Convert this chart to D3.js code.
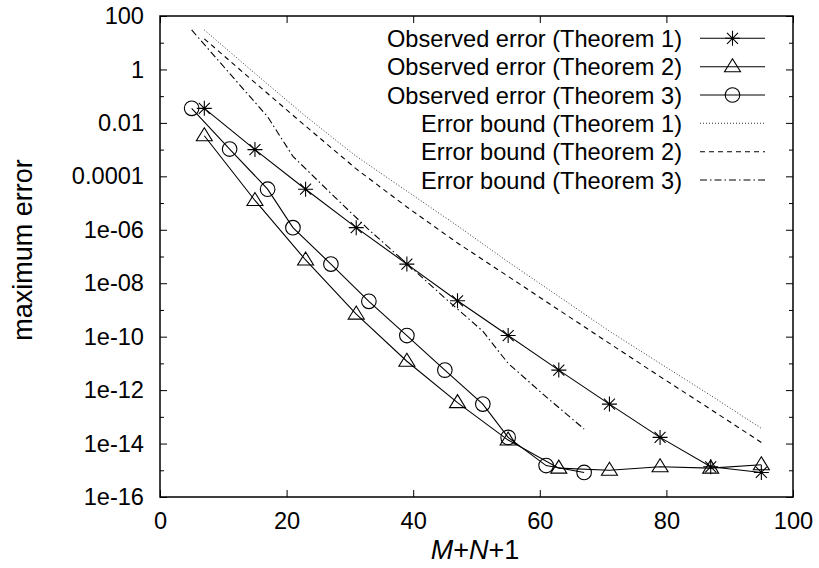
<!DOCTYPE html>
<html><head><meta charset="utf-8">
<script src="https://cdn.jsdelivr.net/npm/d3@7"></script>
<style>
html,body{margin:0;padding:0;background:#fff;}
svg text{font-family:"Liberation Sans",Arial,Helvetica,sans-serif;fill:#000;}
</style></head>
<body><svg id="c" width="819" height="568"></svg>
<script>
// ---- data ----
const xA = [7,15,23,31,39,47,55,63,71,79,87,95];          // Theorem 1 & 2 grid
const xC = [5,11,17,21,27,33,39,45,51,55,61,67];          // Theorem 3 grid
const obs1 = [3.5e-2,1.0e-3,3.3e-5,1.2e-6,5.2e-8,2.2e-9,1.1e-10,5.6e-12,3.0e-13,1.7e-14,1.35e-15,8.3e-16];
const obs2 = [3.3e-3,1.25e-5,7.4e-8,7.0e-10,1.2e-11,3.4e-13,1.35e-14,1.2e-15,1.0e-15,1.35e-15,1.2e-15,1.6e-15];
const obs3 = [3.5e-2,1.05e-3,3.3e-5,1.2e-6,5.2e-8,2.1e-9,1.1e-10,5.6e-12,3.0e-13,1.7e-14,1.5e-15,8.3e-16];
const bound1 = [30,0.71,1.78e-2,5.6e-4,2.8e-5,1.4e-6,6.3e-8,3.2e-9,1.6e-10,1.0e-11,6.3e-13,3.7e-14];
const bound2 = [14,0.32,7.6e-3,1.9e-4,7.1e-6,3.2e-7,1.8e-8,1.0e-9,5.6e-11,3.2e-12,1.9e-13,1.1e-14];
const bound3 = [30,0.71,1.7e-2,5.6e-4,2.3e-5,1.0e-6,5.4e-8,2.8e-9,1.6e-10,1.0e-11,5.6e-13,3.5e-14];
const yTickValues = [1e2,1,1e-2,1e-4,1e-6,1e-8,1e-10,1e-12,1e-14,1e-16];
const yTickLabels = ["100","1","0.01","0.0001","1e-06","1e-08","1e-10","1e-12","1e-14","1e-16"];
const yMinorValues = [1e1,1e-1,1e-3,1e-5,1e-7,1e-9,1e-11,1e-13,1e-15];
const xTickValues = [0,20,40,60,80,100];
const legendLabels = ["Observed error (Theorem 1)","Observed error (Theorem 2)","Observed error (Theorem 3)",
  "Error bound (Theorem 1)","Error bound (Theorem 2)","Error bound (Theorem 3)"];

// ---- layout ----
const L=160,R=793,T=16,B=497;
const svg=d3.select("#c");
const x=d3.scaleLinear().domain([0,100]).range([L,R]);
const y=d3.scaleLog().domain([1e-16,100]).range([B,T]);
const FS="23.6px", FT="27px";

// axes
svg.append("g").attr("transform",`translate(${L},0)`)
  .call(d3.axisLeft(y).tickValues(yTickValues).tickFormat((d,i)=>yTickLabels[i]).tickSize(-7).tickPadding(16));
svg.append("g").attr("transform",`translate(${L},0)`)
  .call(d3.axisLeft(y).tickValues(yMinorValues).tickFormat("").tickSize(-4));
svg.append("g").attr("transform",`translate(${R},0)`)
  .call(d3.axisRight(y).tickValues(yTickValues).tickFormat("").tickSize(-7));
svg.append("g").attr("transform",`translate(${R},0)`)
  .call(d3.axisRight(y).tickValues(yMinorValues).tickFormat("").tickSize(-4));
svg.append("g").attr("transform",`translate(0,${B})`)
  .call(d3.axisBottom(x).tickValues(xTickValues).tickFormat(d3.format("d")).tickSize(-7).tickPadding(15));
svg.append("g").attr("transform",`translate(0,${T})`)
  .call(d3.axisTop(x).tickValues(xTickValues).tickFormat("").tickSize(-7));
svg.selectAll(".domain").remove();
svg.selectAll(".tick line").attr("stroke","#000").attr("stroke-width",1);
svg.selectAll(".tick text").style("font-size",FS).attr("fill","#000");

svg.append("rect").attr("x",L).attr("y",T).attr("width",R-L).attr("height",B-T)
  .attr("fill","none").attr("stroke","#000").attr("stroke-width",1.5);

// titles
svg.append("text").attr("transform","translate(32,250) rotate(-90)").attr("text-anchor","middle")
  .style("font-size",FT).text("maximum error");
const xt=svg.append("text").attr("x",475).attr("y",559).attr("text-anchor","middle").style("font-size",FT);
xt.append("tspan").attr("font-style","italic").text("M");
xt.append("tspan").text("+");
xt.append("tspan").attr("font-style","italic").text("N");
xt.append("tspan").text("+1");

// series
const line=d3.line().x(d=>x(d[0])).y(d=>y(d[1]));
const zip=(a,b)=>a.map((v,i)=>[v,b[i]]);
const plot=svg.append("g");
function drawLine(data,dash,w,col){
  plot.append("path").datum(data).attr("d",line).attr("fill","none")
   .attr("stroke",col||"#000").attr("stroke-width",w||1).attr("stroke-dasharray",dash||null);
}
const s1=zip(xA,obs1), s2=zip(xA,obs2), s3=zip(xC,obs3);
drawLine(zip(xA,bound1),"1,2",1,"#333");
drawLine(zip(xA,bound2),"5,4",1.1);
drawLine(zip(xC,bound3),"7,3,1.5,3",1.1);
drawLine(s1,null,1.1); drawLine(s2,null,1.1); drawLine(s3,null,1.1);

function star(g,cx,cy){
  const r=7.5,d=5.5;
  g.append("path").attr("d",`M${cx-r},${cy}H${cx+r}M${cx},${cy-r}V${cy+r}M${cx-d},${cy-d}L${cx+d},${cy+d}M${cx-d},${cy+d}L${cx+d},${cy-d}`)
   .attr("stroke","#000").attr("stroke-width",1.1).attr("fill","none");
}
function tri(g,cx,cy){
  g.append("path").attr("d",`M${cx},${cy-8}L${cx+8},${cy+5}L${cx-8},${cy+5}Z`)
   .attr("stroke","#000").attr("stroke-width",1.1).attr("fill","none");
}
function circ(g,cx,cy){
  g.append("circle").attr("cx",cx).attr("cy",cy).attr("r",7.3)
   .attr("stroke","#000").attr("stroke-width",1.1).attr("fill","none");
}
s1.forEach(d=>star(plot,x(d[0]),y(d[1])));
s2.forEach(d=>tri(plot,x(d[0]),y(d[1])));
s3.forEach(d=>circ(plot,x(d[0]),y(d[1])));

// legend
const lg=svg.append("g");
const rowY=[38.3,66.7,95,123.3,151.7,180];
const styles=[{m:star},{m:tri},{m:circ},{dash:"1,2",col:"#333"},{dash:"5,4"},{dash:"7,3,1.5,3"}];
legendLabels.forEach((t,i)=>{
  const cy=rowY[i];
  lg.append("text").attr("x",682).attr("y",cy+8.5).attr("text-anchor","end").style("font-size",FS).text(t);
  lg.append("line").attr("x1",700).attr("x2",765).attr("y1",cy).attr("y2",cy)
    .attr("stroke",styles[i].col||"#000").attr("stroke-width",1.1).attr("stroke-dasharray",styles[i].dash||null);
  if(styles[i].m) styles[i].m(lg,732.5,cy);
});
</script></body></html>
